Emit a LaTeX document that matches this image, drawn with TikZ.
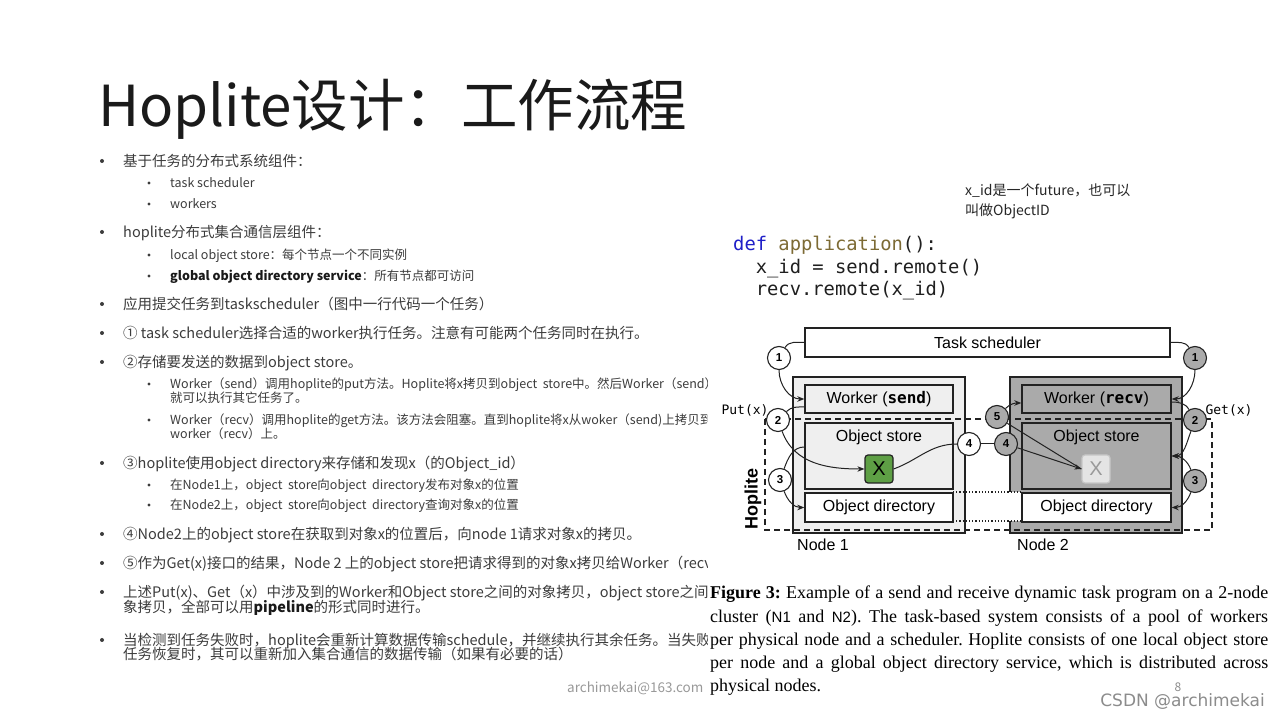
\documentclass[tikz,border=0pt]{standalone}
\usepackage{fontspec}
\setmainfont{Noto Sans CJK SC}
\newfontfamily\arialf{Liberation Sans}
\newfontfamily\monof{DejaVu Sans Mono}
\newfontfamily\capf{Liberation Serif}
\newfontfamily\dvf{DejaVu Sans}
\usetikzlibrary{arrows.meta}
\definecolor{txt}{HTML}{3C3C3C}
\definecolor{ttl}{HTML}{1A1A1A}
\definecolor{codeblue}{HTML}{1F1FC8}
\definecolor{codebrown}{HTML}{7D6B35}
\definecolor{lightfill}{HTML}{EFEFEF}
\definecolor{darkfill}{HTML}{AAAAAA}
\definecolor{bord}{HTML}{222222}
\definecolor{xgreen}{HTML}{5E9F45}
\definecolor{xgray}{HTML}{E4E4E4}
\definecolor{xgrayb}{HTML}{C6C6C6}
\definecolor{wm}{HTML}{8C8C8C}
\tikzset{
  l1/.style={anchor=base west, inner sep=0pt, text=txt, font=\fontsize{14.5}{15}\selectfont},
  l2/.style={anchor=base west, inner sep=0pt, text=txt, font=\fontsize{12.5}{14}\selectfont},
  b1/.style={circle, fill=txt, inner sep=0pt, minimum size=4pt},
  b2/.style={circle, fill=txt, inner sep=0pt, minimum size=3.2pt},
  codeline/.style={anchor=base west, inner sep=0pt, text=black!88, font=\monof\fontsize{18.8}{20}\selectfont},
  capline/.style={anchor=base west, inner sep=0pt, text=black, font=\capf\fontsize{18}{20}\selectfont\frenchspacing},
  fbox/.style={draw=bord, line width=1.4pt, inner sep=0pt, font=\arialf\fontsize{16}{16}\selectfont},
  circ/.style={circle, draw=bord, line width=1.1pt, minimum size=23pt, inner sep=0pt, font=\arialf\bfseries\fontsize{11.5}{11.5}\selectfont},
  ln/.style={line width=1pt, draw=bord},
  arr/.style={line width=1pt, draw=bord, -{Stealth[length=7pt,width=5.5pt]}},
  lbl/.style={inner sep=0pt, font=\arialf\fontsize{16}{16}\selectfont},
}
\begin{document}
\begin{tikzpicture}
\useasboundingbox (0,0) rectangle (1280pt,720pt);
\begin{scope}[x=1pt,y=1pt]
\fill[white] (0,0) rectangle (1280,720);

% ---------- title ----------
\node[anchor=base west, inner sep=0pt, text=ttl, font=\fontsize{56.5}{60}\selectfont] (title) at (98,593) {Hoplite设计：工作流程};

% ---------- left text (clipped where the figure covers it) ----------
\begin{scope}
\clip (0,0) rectangle (707,720);
\node[b1] (bu1) at (102,559) {};
\node[l1] (t1) at (123,553.5) {基于任务的分布式系统组件：};
\node[b2] (bu2) at (149,537) {};
\node[l2] (t2) at (170,532.3) {task scheduler};
\node[b2] (bu3) at (149,516) {};
\node[l2] (t3) at (170,511.3) {workers};
\node[b1] (bu4) at (102,488) {};
\node[l1] (t4) at (123,482.5) {hoplite分布式集合通信层组件：};
\node[b2] (bu5) at (149,465) {};
\node[l2] (t5) at (170,460.3) {local object store：每个节点一个不同实例};
\node[b2] (bu6) at (149,444) {};
\node[l2] (t6) at (170,439.3) {{\bfseries\color{black!90}global object directory service}：所有节点都可访问};
\node[b1] (bu7) at (102,416) {};
\node[l1] (t7) at (123,410.5) {应用提交任务到taskscheduler（图中一行代码一个任务）};
\node[b1] (bu8) at (102,387) {};
\node[l1] (t8) at (123,381.5) {① task scheduler选择合适的worker执行任务。注意有可能两个任务同时在执行。};
\node[b1] (bu9) at (102,358) {};
\node[l1] (t9) at (123,352.5) {②存储要发送的数据到object store。};
\node[b2] (bu10) at (149,336) {};
\node[l2] (t10) at (170,331.3) {Worker（send）调用hoplite的put方法。Hoplite将x拷贝到object\ \ store中。然后Worker（send）};
\node[l2] (t10b) at (170,317.3) {就可以执行其它任务了。};
\node[b2] (bu11) at (149,300) {};
\node[l2] (t11) at (170,295.3) {Worker（recv）调用hoplite的get方法。该方法会阻塞。直到hoplite将x从woker（send)上拷贝到};
\node[l2] (t11b) at (170,281.3) {worker（recv）上。};
\node[b1] (bu12) at (102,257) {};
\node[l1] (t12) at (123,251.5) {③hoplite使用object directory来存储和发现x（的Object\_id）};
\node[b2] (bu13) at (149,235) {};
\node[l2] (t13) at (170,230.3) {在Node1上，object\ \ store向object\ \ directory发布对象x的位置};
\node[b2] (bu14) at (149,215) {};
\node[l2] (t14) at (170,210.3) {在Node2上，object\ \ store向object\ \ directory查询对象x的位置};
\node[b1] (bu15) at (102,186) {};
\node[l1] (t15) at (123,180.5) {④Node2上的object store在获取到对象x的位置后，向node 1请求对象x的拷贝。};
\node[b1] (bu16) at (102,157) {};
\node[l1] (t16) at (123,151.5) {⑤作为Get(x)接口的结果，Node 2 上的object store把请求得到的对象x拷贝给Worker（recv）};
\node[b1] (bu17) at (102,128) {};
\node[l1] (t17) at (123,122.5) {上述Put(x)、Get（x）中涉及到的Worker和Object store之间的对象拷贝，object store之间的对};
\node[l1] (t17b) at (123,107.5) {象拷贝，全部可以用{\bfseries\color{black!90}pipeline}的形式同时进行。};
\node[b1] (bu18) at (102,80) {};
\node[l1] (t18) at (123,74.5) {当检测到任务失败时，hoplite会重新计算数据传输schedule，并继续执行其余任务。当失败的};
\node[l1] (t18b) at (123,60.5) {任务恢复时，其可以重新加入集合通信的数据传输（如果有必要的话）};
\node[anchor=base west, inner sep=0pt, text=black!40, font=\fontsize{13.5}{14}\selectfont] (mail) at (567,27.5) {archimekai@163.com};
\end{scope}

% ---------- note ----------
\node[anchor=base west, inner sep=0pt, text=black!85, font=\fontsize{14}{15}\selectfont] (note1) at (965,524) {x\_id是一个future，也可以};
\node[anchor=base west, inner sep=0pt, text=black!85, font=\fontsize{14}{15}\selectfont] (note2) at (965,504) {叫做ObjectID};

% ---------- code ----------
\node[codeline] (code1) at (733,469) {{\color{codeblue}def} {\color{codebrown}application}():};
\node[codeline] (code2) at (755.6,446.5) {x\_id = send.remote()};
\node[codeline] (code3) at (755.6,424) {recv.remote(x\_id)};

% ---------- figure ----------
\node[fbox, fill=white, minimum width=365pt, minimum height=29pt] (sched) at (987.5,377.5) {Task scheduler};
\node[fbox, fill=lightfill, minimum width=172pt, minimum height=156pt] (n1) at (879,265) {};
\node[fbox, fill=darkfill, minimum width=172pt, minimum height=156pt] (n2) at (1096,265) {};
\draw[line width=1.2pt, draw=bord, dash pattern=on 6pt off 4pt] (765,301) rectangle (1212,190);
\fill[white] (1008.5,199) rectangle (1022,228);
\draw[line width=1.2pt, draw=bord, dotted] (953,228) -- (1022,228);
\draw[line width=1.2pt, draw=bord, dotted] (953,199) -- (1022,199);

\node[fbox, fill=lightfill, minimum width=148pt, minimum height=28pt] (ws) at (879,321) {Worker ({\monof\bfseries send})};
\node[fbox, fill=lightfill, minimum width=148pt, minimum height=66pt] (os1) at (879,264) {};
\node[lbl] (os1t) at (879,283) {Object store};
\node[fbox, fill=white, minimum width=148pt, minimum height=29pt] (od1) at (879,212.5) {Object directory};

\node[fbox, fill=darkfill, minimum width=149pt, minimum height=28pt] (wr) at (1096.5,321) {Worker ({\monof\bfseries recv})};
\node[fbox, fill=darkfill, minimum width=149pt, minimum height=66pt] (os2) at (1096.5,264) {};
\node[lbl] (os2t) at (1096.5,283) {Object store};
\node[fbox, fill=white, minimum width=149pt, minimum height=29pt] (od2) at (1096.5,212.5) {Object directory};

\node[draw=bord, line width=1.2pt, fill=xgreen, rounded corners=3pt, minimum size=28pt, inner sep=0pt, font=\arialf\fontsize{20}{20}\selectfont] (xb1) at (879,251) {X};
\node[draw=xgrayb, line width=1.2pt, fill=xgray, rounded corners=3pt, minimum size=28pt, inner sep=0pt, text=black!40, font=\arialf\fontsize{20}{20}\selectfont] (xb2) at (1096,251) {X};

\node[circ, fill=white] (c1L) at (779,362) {1};
\node[circ, fill=darkfill] (c1R) at (1195,362) {1};
\node[circ, fill=white] (c2L) at (778,300) {2};
\node[circ, fill=white] (c3L) at (780,240) {3};
\node[circ, fill=white] (c4a) at (969,276) {4};
\node[circ, fill=darkfill] (c4b) at (1006,276) {4};
\node[circ, fill=darkfill] (c5) at (997,303) {5};
\node[circ, fill=darkfill] (c2R) at (1195,300) {2};
\node[circ, fill=darkfill] (c3R) at (1195,239) {3};

\draw[ln] (sched.west) to[out=180,in=60] (c1L);
\draw[arr] (c1L) to[out=-90,in=180] (ws.west);
\draw[ln] (c2L) to[out=45,in=180] ([yshift=-8pt]ws.west);
\draw[arr] (c2L) to[out=-70,in=180] (xb1.west);
\draw[ln] (c3L) to[out=70,in=180] ([yshift=9pt]os1.west);
\draw[arr] (c3L) to[out=-70,in=180] (od1.west);
\draw[ln] (xb1.east) to[out=20,in=180] (c4a);
\draw[ln] (c4a) -- (c4b);
\draw[arr] (c4b) -- (xb2.west);
\draw[ln] (c5) -- (xb2.west);
\draw[arr] (c5) to[out=45,in=180] ([yshift=-4pt]wr.west);
\draw[ln] (sched.east) to[out=0,in=120] (c1R);
\draw[arr] (c1R) to[out=-90,in=0] (wr.east);
\draw[ln] ([yshift=-3pt]wr.east) to[out=0,in=120] (c2R);
\draw[arr] (c2R) to[out=-110,in=0] (os2.east);
\draw[arr] (c3R) to[out=110,in=0] (os2.east);
\draw[arr] (c3R) to[out=-110,in=0] (od2.east);

\node[inner sep=0pt, font=\monof\fontsize{13}{13}\selectfont] (put) at (745,310) {Put(x)};
\node[inner sep=0pt, font=\monof\fontsize{13}{13}\selectfont] (get) at (1229,310) {Get(x)};
\node[anchor=base west, inner sep=0pt, font=\arialf\fontsize{16}{16}\selectfont] (nl1) at (797,169) {Node 1};
\node[anchor=base west, inner sep=0pt, font=\arialf\fontsize{16}{16}\selectfont] (nl2) at (1017,169) {Node 2};
\node[rotate=90, inner sep=0pt, font=\arialf\bfseries\fontsize{18}{18}\selectfont] (hop) at (753,221) {Hoplite};

% ---------- caption ----------
\node[capline] (cap1) at (710,121) {\makebox[558pt][s]{\textbf{Figure 3:} Example of a send and receive dynamic task program on a 2-node}};
\node[capline] (cap2) at (710,97) {\makebox[558pt][s]{cluster ({\arialf\fontsize{15}{15}\selectfont N1} and {\arialf\fontsize{15}{15}\selectfont N2}). The task-based system consists of a pool of workers}};
\node[capline] (cap3) at (710,74) {\makebox[558pt][s]{per physical node and a scheduler. Hoplite consists of one local object store}};
\node[capline] (cap4) at (710,51) {\makebox[558pt][s]{per node and a global object directory service, which is distributed across}};
\node[capline] (cap5) at (710,28) {physical nodes.};

% ---------- page number and watermark ----------
\node[inner sep=0pt, text=black!45, font=\fontsize{12}{12}\selectfont] (pg) at (1178,33) {8};
\node[anchor=east, inner sep=0pt, text=wm, font=\dvf\fontsize{17}{17}\selectfont] (csdn) at (1265,18) {CSDN @archimekai};
\end{scope}
\end{tikzpicture}
\end{document}
